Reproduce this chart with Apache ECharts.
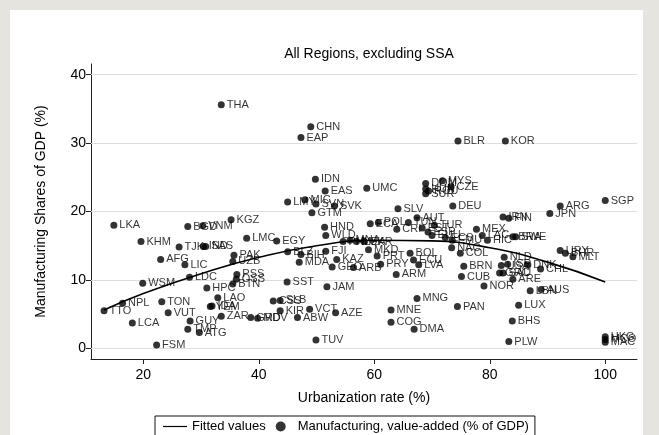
<!DOCTYPE html>
<html>
<head>
<meta charset="utf-8">
<script src="https://cdn.jsdelivr.net/npm/echarts@6/dist/echarts.min.js"></script>
<style>
  html, body { margin: 0; padding: 0; background: #e6e4de; }
  #chart { width: 659px; height: 435px; }
</style>
</head>
<body>
<div id="chart"></div>
<script>
// Country / aggregate codes, urbanization rate (%) and manufacturing share of GDP (%)
const codes = ['THA','CHN','EAP','BLR','KOR','IDN','EAS','UMC','MYS','DOM','HUN','ROU','SUR','CZE',
  'LMY','MIC','SVN','SVK','SGP','ARG','SLV','DEU','GTM','JPN','IRN','FIN','AUT','KGZ','LKA','BGD','VNM',
  'ECA','POL','TUN','TUR','HND','CRI','MEX','BRA','SWE','WLD','LMC','EGY','KHM','TJK','IND','SAS',
  'MKD','PRT','BOL','ECU','LVA','COL','BRN','CUB','NOR','URY','BHR','MLT','NLD','USA','ISR','DNK','CHL',
  'GRC','SAU','ARE','LBN','AUS','LUX','BHS','PLW','HKG','MCO','MAC','BLZ','BIH','MDA','FJI','KAZ','GEO',
  'ARB','PRY','ARM','PAK','UZB','PSS','OSS','BTN','HPC','LAO','YEM','IDA','ZAR','AFG','LIC','LDC','WSM',
  'TTO','NPL','TON','VUT','LCA','GUY','TMP','ATG','FSM','SST','JAM','CSS','SLB','KIR','VCT','AZE','ABW',
  'GRD','MDV','TUV','MNG','PAN','MNE','COG','DMA','PHL','MNA','MEA','UKR','EST','ESP','EUU','ECS','EMU',
  'LAC','HIC','NAC'];
const urbanization = [33.5,49.0,47.3,74.5,82.7,49.8,51.5,58.7,71.8,68.9,68.9,69.4,68.9,73.3,
  45.0,48.0,49.9,53.1,100,92.2,64.1,73.6,49.2,90.4,82.3,83.3,67.4,35.2,14.9,27.7,30.3,
  59.3,60.7,65.9,70.4,51.4,63.9,77.7,84.0,84.5,51.6,37.9,43.1,19.6,26.2,30.4,30.8,
  59.0,60.5,66.2,66.8,67.7,74.9,75.5,75.1,79.0,92.2,93.1,94.4,82.5,82.0,83.1,86.6,88.8,
  81.7,82.3,84.0,87.0,88.9,85.0,83.9,83.3,100,100,100,45.0,47.3,47.0,51.6,53.5,52.7,
  56.4,61.1,63.8,35.7,35.5,36.2,36.1,35.5,31.0,32.9,31.6,31.9,33.5,23.0,27.2,28.0,19.9,
  13.2,16.4,23.2,24.3,18.1,28.1,27.7,29.7,22.3,44.9,51.8,42.5,43.7,43.7,48.8,53.3,46.7,
  38.6,39.8,49.9,67.4,74.4,62.9,62.9,66.9,54.6,55.8,56.9,58.2,68.3,69.3,70.0,72.3,73.5,
  78.7,79.6,73.4];
const manufacturing = [35.6,32.4,30.8,30.3,30.3,24.7,23.0,23.4,24.5,24.1,23.3,23.0,22.6,23.6,
  21.4,21.7,21.1,20.8,21.6,20.8,20.4,20.8,19.8,19.7,19.2,19.0,19.1,18.8,18.0,17.8,17.9,
  18.2,18.4,18.4,18.0,17.7,17.4,17.4,16.3,16.3,16.5,16.1,15.7,15.6,14.8,14.9,14.9,
  14.4,13.5,13.9,12.9,12.2,13.9,12.0,10.5,9.1,14.3,13.9,13.4,13.3,12.1,12.3,12.2,11.6,
  11.0,11.0,10.1,8.4,8.6,6.3,4.0,1.0,1.7,1.3,0.9,14.1,13.7,12.6,14.2,13.0,11.9,
  11.8,12.3,10.8,13.6,12.7,10.8,10.1,9.4,8.8,7.4,6.1,6.2,4.7,13.0,12.2,10.4,9.5,
  5.5,6.6,6.8,5.2,3.7,4.0,2.8,2.3,0.5,9.7,9.0,6.9,7.0,5.5,5.7,5.2,4.5,
  4.5,4.4,1.2,7.3,6.1,5.6,3.8,2.8,15.6,15.8,15.6,15.6,17.6,17.0,16.5,16.2,15.8,
  16.5,15.8,14.7];

// Quadratic fitted values
const fitX = [13.2, 20, 30, 40, 50, 60, 70, 80, 90, 100];
const fitY = [5.6, 8.0, 10.9, 13.3, 15.0, 15.8, 15.7, 14.7, 12.6, 9.7];

// Axis ticks
const xTicks = [20, 40, 60, 80, 100];
const yTicks = [0, 10, 20, 30, 40];

const points = codes.map((c, i) => ({ name: c, value: [urbanization[i], manufacturing[i]] }));
const fitted = fitX.map((x, i) => [x, fitY[i]]);

const FONT = 'Liberation Sans, Arial, sans-serif';
const chart = echarts.init(document.getElementById('chart'), null, { renderer: 'canvas' });

chart.setOption({
  animation: false,
  backgroundColor: '#e6e4de',
  graphic: [{
    type: 'rect', z: -10,
    shape: { x: 10, y: 10, width: 633, height: 440 },
    style: { fill: '#ffffff' }
  }],
  title: {
    text: 'All Regions, excluding SSA',
    left: 364, top: 42, textAlign: 'center',
    textStyle: { fontFamily: FONT, fontSize: 14, fontWeight: 'normal', color: '#000' }
  },
  grid: { left: 91, right: 22, top: 64, bottom: 76 },
  xAxis: {
    type: 'value', min: 10.94, max: 105.5,
    name: 'Urbanization rate (%)', nameLocation: 'middle', nameGap: 32,
    nameTextStyle: { fontFamily: FONT, fontSize: 14, color: '#000' },
    axisLine: { show: true, onZero: false, lineStyle: { color: '#222', width: 1 } },
    axisTick: { show: true, length: 5, customValues: xTicks, lineStyle: { color: '#222' } },
    axisLabel: { customValues: xTicks, margin: 9, fontFamily: FONT, fontSize: 14, color: '#000' },
    splitLine: { show: false }
  },
  yAxis: {
    type: 'value', min: -1.56, max: 41.56,
    name: 'Manufacturing Shares of GDP (%)', nameLocation: 'middle', nameGap: 43, nameRotate: 90,
    nameTextStyle: { fontFamily: FONT, fontSize: 14, color: '#000' },
    axisLine: { show: true, onZero: false, lineStyle: { color: '#222', width: 1 } },
    axisTick: { show: true, length: 5, customValues: yTicks, lineStyle: { color: '#222' } },
    axisLabel: { customValues: yTicks, margin: 5, fontFamily: FONT, fontSize: 14, color: '#000' },
    splitLine: { show: false }
  },
  legend: {
    bottom: -6, left: 155,
    itemGap: 10, itemWidth: 24, itemHeight: 10,
    borderColor: '#111', borderWidth: 1, padding: [4, 6, 8, 8],
    textStyle: { fontFamily: FONT, fontSize: 13, color: '#000' },
    data: [
      { name: 'Fitted values', icon: 'path://M0,5L24,5L24,6.2L0,6.2Z' },
      { name: 'Manufacturing, value-added (% of GDP)', icon: 'circle', itemStyle: { color: '#000' } }
    ]
  },
  series: [
    {
      name: 'Fitted values', type: 'line', data: fitted, smooth: true,
      showSymbol: false, symbol: 'none', z: 3,
      lineStyle: { color: '#000', width: 1.6 }, itemStyle: { color: '#000' },
      markLine: {
        silent: true, symbol: 'none', z: 1, label: { show: false },
        lineStyle: { color: '#dedede', width: 1, type: 'solid' },
        data: yTicks.map(v => ({ yAxis: v }))
      }
    },
    {
      name: 'Manufacturing, value-added (% of GDP)', type: 'scatter', data: points,
      symbol: 'circle', symbolSize: 7, z: 4,
      itemStyle: { color: '#000' },
      label: {
        show: true, position: 'right', distance: 2, formatter: '{b}',
        fontFamily: FONT, fontSize: 11, color: '#000'
      },
      labelLayout: { hideOverlap: false }
    }
  ]
});
</script>
</body>
</html>
